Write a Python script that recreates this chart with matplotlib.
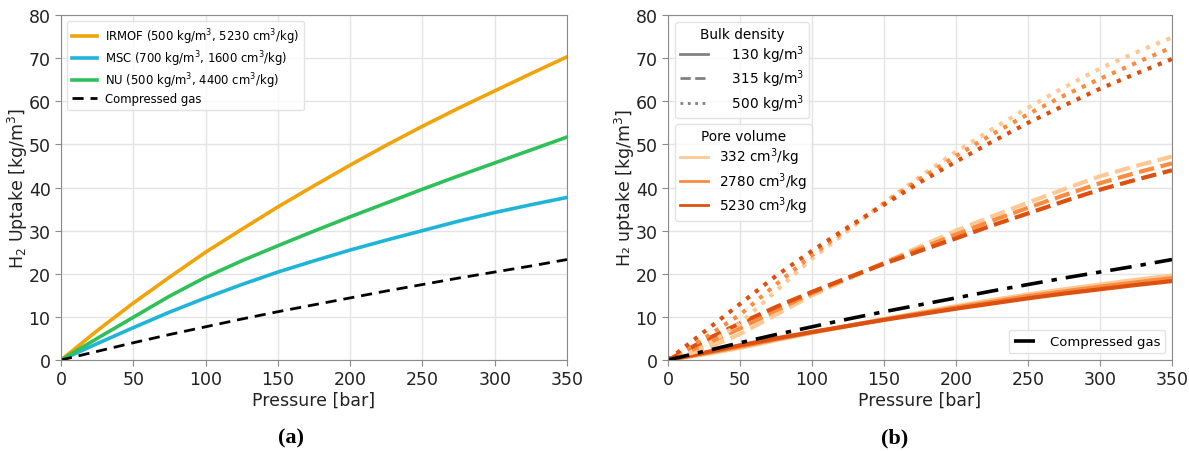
import matplotlib
matplotlib.use("Agg")
import matplotlib.pyplot as plt
from matplotlib.lines import Line2D

# ---------------- data ----------------
pressure = [0, 25, 50, 75, 100, 125, 150, 175, 200, 225, 250, 275, 300, 325, 350]

irmof = [0, 6.8, 13.2, 19.2, 25.0, 30.3, 35.5, 40.4, 45.2, 49.8, 54.2, 58.4, 62.4, 66.4, 70.3]
msc = [0, 3.8, 7.5, 11.1, 14.4, 17.5, 20.4, 23.0, 25.5, 27.8, 30.0, 32.2, 34.2, 36.0, 37.7]
nu = [0, 5.0, 9.9, 14.8, 19.2, 23.0, 26.5, 29.9, 33.2, 36.4, 39.6, 42.7, 45.7, 48.7, 51.7]
compressed = [0, 2.0, 4.0, 5.9, 7.7, 9.5, 11.2, 12.8, 14.4, 16.0, 17.5, 19.0, 20.4, 21.8, 23.3]

left_labels = ["IRMOF (500 kg/m$^3$, 5230 cm$^3$/kg)",
               "MSC (700 kg/m$^3$, 1600 cm$^3$/kg)",
               "NU (500 kg/m$^3$, 4400 cm$^3$/kg)",
               "Compressed gas"]

bulk_density_labels = ["130 kg/m$^3$", "315 kg/m$^3$", "500 kg/m$^3$"]
pore_volume_labels = ["332 cm$^3$/kg", "2780 cm$^3$/kg", "5230 cm$^3$/kg"]

# uptake[bulk density][pore volume]
d130_v332 = [0, 1.3, 2.8, 4.6, 6.3, 7.9, 9.5, 11.0, 12.5, 13.9, 15.2, 16.4, 17.5, 18.6, 19.6]
d130_v2780 = [0, 1.5, 3.1, 4.8, 6.4, 7.9, 9.4, 10.8, 12.2, 13.5, 14.8, 15.9, 17.0, 18.0, 19.0]
d130_v5230 = [0, 1.7, 3.4, 5.0, 6.5, 7.9, 9.3, 10.6, 11.9, 13.1, 14.3, 15.4, 16.4, 17.4, 18.3]

d315_v332 = [0, 2.5, 6.0, 10.5, 15.0, 18.8, 22.5, 26.3, 30.0, 33.3, 36.5, 39.6, 42.6, 45.0, 47.2]
d315_v2780 = [0, 3.5, 7.3, 11.5, 15.5, 19.0, 22.5, 25.8, 29.1, 32.3, 35.3, 38.2, 41.0, 43.4, 45.6]
d315_v5230 = [0, 4.5, 8.5, 12.3, 15.8, 19.1, 22.3, 25.3, 28.2, 31.2, 34.0, 36.8, 39.5, 41.8, 44.0]

d500_v332 = [0, 3.0, 8.5, 16.0, 23.5, 30.0, 36.5, 42.5, 48.3, 53.5, 58.5, 63.2, 67.6, 71.3, 74.8]
d500_v2780 = [0, 5.0, 10.5, 17.5, 24.3, 30.5, 36.3, 42.0, 47.3, 52.3, 57.0, 61.3, 65.2, 68.9, 72.5]
d500_v5230 = [0, 6.5, 13.0, 19.5, 25.3, 30.8, 36.0, 41.2, 46.0, 50.6, 55.0, 59.0, 62.9, 66.4, 69.8]

# ---------------- styling ----------------
plt.rcParams['font.family'] = ['DejaVu Sans']
left_colors = ['#f0a30a', '#1fb4d8', '#2fc05a']
pore_colors = ['#fdc893', '#f98c40', '#dc5010']
bulk_styles = ['-', '--', ':']
grid_c = '#e4e4e4'
spine_c = '#8a8a8a'

fig = plt.figure(figsize=(11.89, 4.52), dpi=100)
axL = fig.add_axes([0.0513, 0.2013, 0.4256, 0.7633])
axR = fig.add_axes([0.5618, 0.2013, 0.4239, 0.7633])

for ax in (axL, axR):
    ax.set_xlim(0, 350)
    ax.set_ylim(0, 80)
    ax.set_xticks(range(0, 351, 50))
    ax.set_yticks(range(0, 81, 10))
    ax.grid(True, color=grid_c, linewidth=1)
    ax.set_axisbelow(True)
    for s in ax.spines.values():
        s.set_color(spine_c)
    ax.tick_params(labelsize=12.5, colors='#222222', length=4, color=spine_c)
    ax.set_xlabel("Pressure [bar]", fontsize=12.5, color='#222222', labelpad=2)

# ---- left panel ----
axL.plot(pressure, irmof, color=left_colors[0], lw=2.6, label=left_labels[0])
axL.plot(pressure, msc, color=left_colors[1], lw=2.6, label=left_labels[1])
axL.plot(pressure, nu, color=left_colors[2], lw=2.6, label=left_labels[2])
axL.plot(pressure, compressed, color='black', lw=2, ls=(0, (4, 2.5)), label=left_labels[3])
axL.set_ylabel("H$_2$ Uptake [kg/m$^3$]", fontsize=12.5, color='#222222', labelpad=-1)
axL.legend(loc='upper left', bbox_to_anchor=(0.0, 1.0), fontsize=8.4, frameon=True,
           edgecolor='#dddddd', fancybox=True, handlelength=2.1, borderpad=0.45,
           labelspacing=0.2, handletextpad=0.7)

# ---- right panel ----
series = [[d130_v332, d130_v2780, d130_v5230],
          [d315_v332, d315_v2780, d315_v5230],
          [d500_v332, d500_v2780, d500_v5230]]
for i, group in enumerate(series):
    for j, ys in enumerate(group):
        axR.plot(pressure, ys, color=pore_colors[j], lw=3, ls=bulk_styles[i])
gas_line, = axR.plot(pressure, compressed, color='black', lw=2.6, ls=(0, (6, 2.5, 1.5, 2.5)))
axR.set_ylabel("H₂ uptake [kg/m$^3$]", fontsize=12.5, color='#222222', labelpad=-1)

bulk_handles = [Line2D([], [], color='#808080', lw=2, ls=s) for s in bulk_styles]
leg1 = axR.legend(bulk_handles, ["   " + l for l in bulk_density_labels], title="Bulk density",
                  loc='upper left', bbox_to_anchor=(0.0, 1.0), fontsize=9.8, title_fontsize=9.8,
                  handlelength=2.1, edgecolor='#dddddd', borderpad=0.35, labelspacing=0.2)
axR.add_artist(leg1)
pore_handles = [Line2D([], [], color=c, lw=2) for c in pore_colors]
leg2 = axR.legend(pore_handles, pore_volume_labels, title="Pore volume",
                  loc='upper left', bbox_to_anchor=(0.0, 0.703), fontsize=9.8, title_fontsize=9.8,
                  handlelength=2.1, edgecolor='#dddddd', borderpad=0.35, labelspacing=0.2)
axR.add_artist(leg2)
axR.legend([gas_line], ["Compressed gas"], loc='lower right', fontsize=9.5,
           edgecolor='#dddddd', handlelength=1.6, handletextpad=1.1)

# ---- captions ----
fig.text(291 / 1189, 1 - 438 / 452, "(a)", ha='center', va='center', fontsize=16,
         fontweight='bold', family='Liberation Serif')
fig.text(895 / 1189, 1 - 438 / 452, "(b)", ha='center', va='center', fontsize=16,
         fontweight='bold', family='Liberation Serif')

fig.savefig("out.png", dpi=100)
